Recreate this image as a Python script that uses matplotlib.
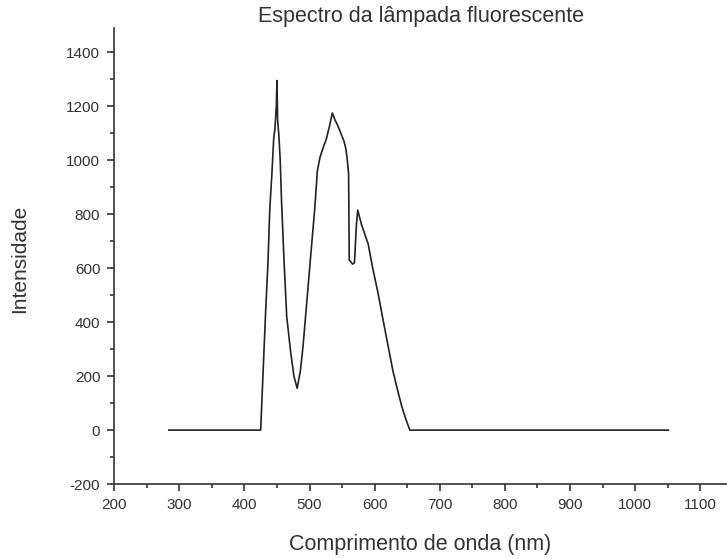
import matplotlib
matplotlib.use("Agg")
import matplotlib.pyplot as plt
from matplotlib.ticker import MultipleLocator

plt.rcParams["font.family"] = ["Liberation Sans", "DejaVu Sans"]
plt.rcParams["axes.unicode_minus"] = False

# Spectrum (nm, counts)
wavelength = [284, 425, 430, 433, 436, 439, 442, 445, 447, 449, 450, 451, 453,
              455, 457, 461, 465, 471, 476, 481, 486, 490, 496, 503, 508, 512,
              516, 520, 526, 531, 535, 539, 543, 548, 553, 556, 558, 560, 561,
              563, 566, 569, 572, 574, 580, 590, 597, 605, 612, 620, 628, 635,
              642, 648, 654, 1051]
intensity = [0, 0, 290, 460, 610, 820, 940, 1080, 1120, 1200, 1295, 1150, 1090,
             1000, 850, 620, 420, 290, 200, 155, 220, 310, 480, 680, 820, 960,
             1010, 1040, 1080, 1130, 1175, 1150, 1130, 1100, 1070, 1040, 1000,
             950, 630, 625, 615, 620, 760, 815, 760, 690, 600, 510, 420, 320,
             220, 150, 85, 40, 0, 0]

title = "Espectro da lâmpada fluorescente"
xlabel = "Comprimento de onda (nm)"
ylabel = "Intensidade"

text_color = "#333333"

fig = plt.figure(figsize=(7.27, 5.59), dpi=100)
ax = fig.add_axes([0.157, 0.134, 0.843, 0.816])

ax.plot(wavelength, intensity, color="#222222", linewidth=1.2)

ax.set_xlim(200, 1141)
ax.set_ylim(-200, 1490)
ax.xaxis.set_major_locator(MultipleLocator(100))
ax.xaxis.set_minor_locator(MultipleLocator(50))
ax.yaxis.set_major_locator(MultipleLocator(200))
ax.yaxis.set_minor_locator(MultipleLocator(100))

for side in ("top", "right"):
    ax.spines[side].set_visible(False)
for side in ("left", "bottom"):
    ax.spines[side].set_color(text_color)
    ax.spines[side].set_linewidth(1.2)

ax.tick_params(which="major", direction="out", length=5, width=1.2,
               colors=text_color, labelsize=11, pad=5)
ax.tick_params(which="minor", direction="out", length=3, width=1.2,
               colors=text_color)

ax.set_title(title, fontsize=15.5, color=text_color, pad=4)
ax.set_xlabel(xlabel, fontsize=15.5, color=text_color)
ax.set_ylabel(ylabel, fontsize=15, color=text_color)
ax.xaxis.set_label_coords(0.5, -0.11)
ax.yaxis.set_label_coords(-0.139, 0.493)

fig.savefig("out.png", dpi=100)
